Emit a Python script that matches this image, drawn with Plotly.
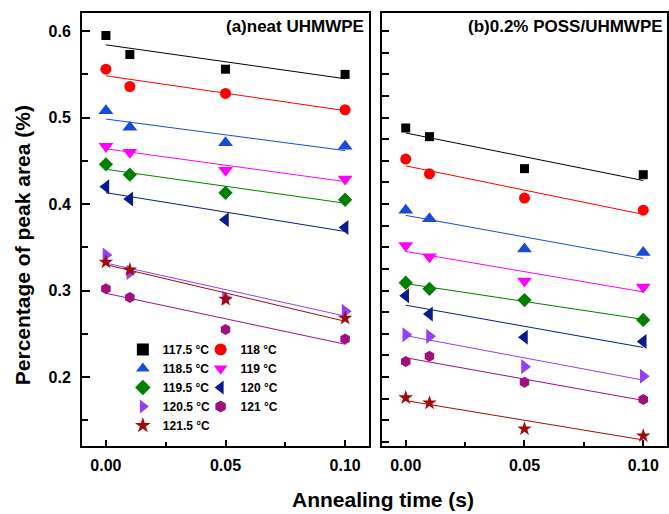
import numpy as np
import plotly.graph_objects as go

# ---------------- data ----------------
time_s = [0.0, 0.01, 0.05, 0.10]
temperatures = ["117.5 °C", "118 °C", "118.5 °C", "119 °C", "119.5 °C",
                "120 °C", "120.5 °C", "121 °C", "121.5 °C"]

# (a) neat UHMWPE
neat_1175 = [0.595, 0.573, 0.556, 0.550]
neat_118 = [0.556, 0.536, 0.528, 0.509]
neat_1185 = [0.508, 0.489, 0.471, 0.467]
neat_119 = [0.467, 0.460, 0.439, 0.429]
neat_1195 = [0.446, 0.434, 0.413, 0.405]
neat_120 = [0.420, 0.406, 0.382, 0.373]
neat_1205 = [0.341, 0.321, 0.291, 0.276]
neat_121 = [0.302, 0.292, 0.255, 0.244]
neat_1215 = [0.333, 0.324, 0.290, 0.268]

# (b) 0.2% POSS/UHMWPE
poss_1175 = [0.488, 0.478, 0.441, 0.434]
poss_118 = [0.452, 0.435, 0.407, 0.393]
poss_1185 = [0.393, 0.383, 0.348, 0.344]
poss_119 = [0.352, 0.339, 0.311, 0.304]
poss_1195 = [0.309, 0.302, 0.289, 0.266]
poss_120 = [0.294, 0.273, 0.246, 0.241]
poss_1205 = [0.249, 0.247, 0.212, 0.201]
poss_121 = [0.218, 0.224, 0.194, 0.174]
poss_1215 = [0.176, 0.170, 0.140, 0.132]

series_neat = [neat_1175, neat_118, neat_1185, neat_119, neat_1195,
               neat_120, neat_1205, neat_121, neat_1215]
series_poss = [poss_1175, poss_118, poss_1185, poss_119, poss_1195,
               poss_120, poss_1205, poss_121, poss_1215]

# ---------------- styles ----------------
colors = ["#000000", "#ff0000", "#1a4bd6", "#ff00ff", "#008000",
          "#0a1a8a", "#9440f0", "#a01080", "#a00a0a"]
symbols = ["square", "circle", "triangle-up", "triangle-down", "diamond",
           "triangle-left", "triangle-right", "hexagon", "star"]
sizes = [9, 11, 13, 13, 11, 13, 13, 11, 11]
legend_ids = ["legend", "legend2"] * 5

FONT = "Liberation Sans, Arial, sans-serif"

fig = go.Figure()
for i, name in enumerate(temperatures):
    for panel, ys, xa, ya in [(0, series_neat[i], "x", "y"),
                              (1, series_poss[i], "x2", "y2")]:
        coef = np.polyfit(time_s, ys, 1)
        xl = [time_s[0], time_s[-1]]
        yl = np.polyval(coef, xl)
        fig.add_trace(go.Scatter(
            x=xl, y=yl, mode="lines", line=dict(color=colors[i], width=1),
            showlegend=False, hoverinfo="skip", xaxis=xa, yaxis=ya))
        fig.add_trace(go.Scatter(
            x=time_s, y=ys, mode="markers", name=name,
            marker=dict(symbol=symbols[i], size=sizes[i], color=colors[i],
                        line=dict(width=0)),
            showlegend=(panel == 0), legend=legend_ids[i],
            xaxis=xa, yaxis=ya))

axis_line = dict(showline=True, linecolor="black", linewidth=2, mirror=True,
                 showgrid=False, zeroline=False, ticks="inside",
                 tickcolor="black", tickwidth=1.5)
tickfont = dict(family=FONT, size=16, color="black", weight="bold")

W, H = 669, 514
ML, MR, MT, MB = 82, 0, 13, 68
pw = W - ML - MR
ph = H - MT - MB

def px_x(p):
    return (p - ML) / pw

def px_y(p):
    return (H - MB - p) / ph

fig.update_layout(
    width=W, height=H,
    margin=dict(l=ML, r=MR, t=MT, b=MB),
    paper_bgcolor="white", plot_bgcolor="white",
    font=dict(family=FONT, color="black"),
    xaxis=dict(**axis_line, domain=[0, px_x(370)], range=[-0.01, 0.11],
               tick0=0, dtick=0.05, tickformat=".2f", ticklen=6,
               tickfont=tickfont, ticklabelstandoff=4, anchor="y",
               minor=dict(ticks="inside", dtick=0.025, tick0=0, ticklen=4,
                          tickwidth=1.5, tickcolor="black")),
    xaxis2=dict(**axis_line, domain=[px_x(383), 1], range=[-0.01, 0.11],
                tick0=0, dtick=0.05, tickformat=".2f", ticklen=6,
                tickfont=tickfont, ticklabelstandoff=4, anchor="y2",
                minor=dict(ticks="inside", dtick=0.025, tick0=0, ticklen=4,
                           tickwidth=1.5, tickcolor="black")),
    yaxis=dict(**axis_line, range=[0.1202, 0.621], tick0=0, dtick=0.1,
               tickformat=".1f", ticklen=8, tickfont=tickfont,
               ticklabelstandoff=6, anchor="x",
               minor=dict(ticks="inside", dtick=0.05, tick0=0, ticklen=6,
                          tickwidth=1.5, tickcolor="black")),
    yaxis2=dict(**axis_line, range=[0.1202, 0.621], tick0=0, dtick=0.025,
                ticklen=7, showticklabels=False, anchor="x2", matches="y"),
    legend=dict(x=px_x(123), y=px_y(335), xanchor="left", yanchor="top",
                bgcolor="rgba(0,0,0,0)", borderwidth=0,
                font=dict(family=FONT, size=12, color="black", weight="bold"),
                itemsizing="constant", tracegroupgap=0),
    legend2=dict(x=px_x(201), y=px_y(335), xanchor="left", yanchor="top",
                 bgcolor="rgba(0,0,0,0)", borderwidth=0,
                 font=dict(family=FONT, size=12, color="black", weight="bold"),
                 itemsizing="constant", tracegroupgap=0),
    annotations=[
        dict(text="(a)neat UHMWPE", xref="paper", yref="paper",
             x=px_x(367), y=px_y(26), xanchor="right", yanchor="middle",
             showarrow=False,
             font=dict(family=FONT, size=17, color="black", weight="bold")),
        dict(text="(b)0.2% POSS/UHMWPE", xref="paper", yref="paper",
             x=px_x(667), y=px_y(26), xanchor="right", yanchor="middle",
             showarrow=False,
             font=dict(family=FONT, size=17, color="black", weight="bold")),
        dict(text="Annealing time (s)", xref="paper", yref="paper",
             x=px_x(384), y=px_y(499), xanchor="center", yanchor="middle",
             showarrow=False,
             font=dict(family=FONT, size=21, color="black", weight="bold")),
        dict(text="Percentage of peak area (%)", xref="paper", yref="paper",
             x=px_x(22), y=px_y(245), xanchor="center", yanchor="middle",
             textangle=-90, showarrow=False,
             font=dict(family=FONT, size=21, color="black", weight="bold")),
    ],
)

fig.write_html("out.html")
